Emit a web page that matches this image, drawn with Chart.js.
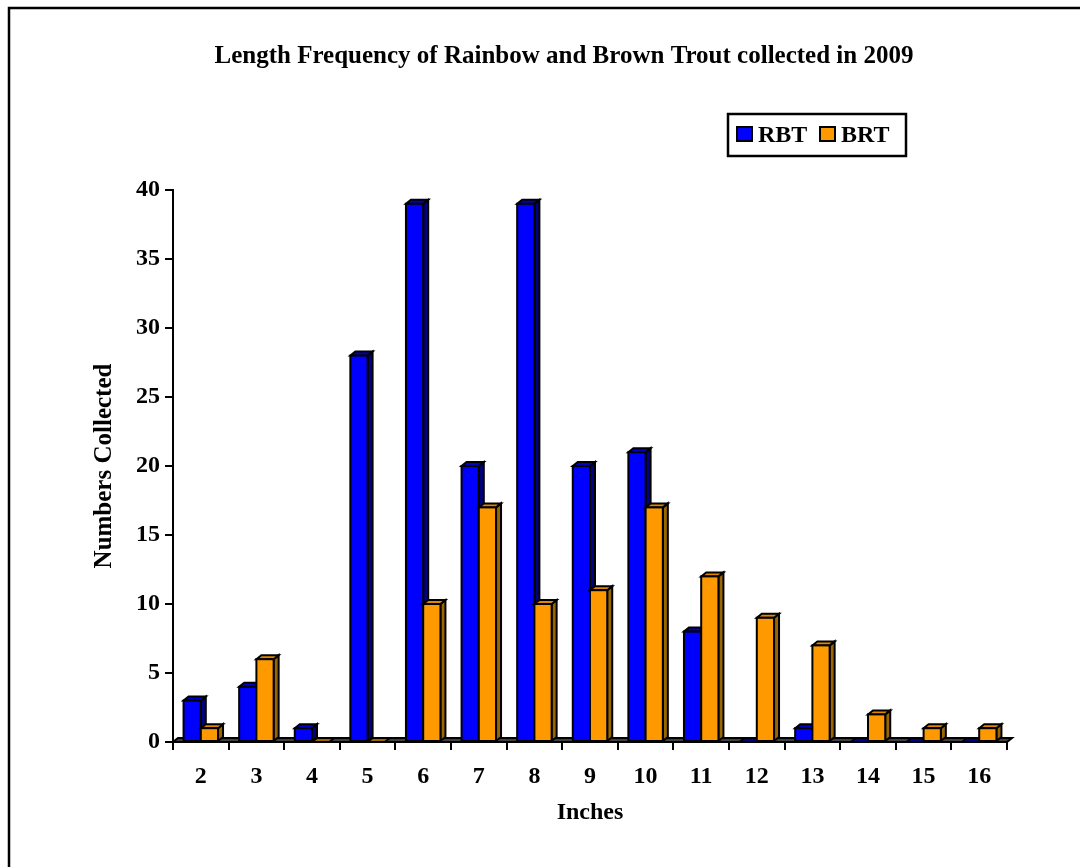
<!DOCTYPE html>
<html>
<head>
<meta charset="utf-8">
<script src="https://cdn.jsdelivr.net/npm/chart.js@4"></script>
<style>
  html, body { margin: 0; padding: 0; background: #fff; }
  #wrap { width: 1080px; height: 867px; }
</style>
</head>
<body>
<div id="wrap"><canvas id="myChart" width="1080" height="867"></canvas></div>
<script>
const TITLE = 'Length Frequency of Rainbow and Brown Trout collected in 2009';
const inches = ['2', '3', '4', '5', '6', '7', '8', '9', '10', '11', '12', '13', '14', '15', '16'];
const rbt = [3, 4, 1, 28, 39, 20, 39, 20, 21, 8, 0, 1, 0, 0, 0];
const brt = [1, 6, 0, 0, 10, 17, 10, 11, 17, 12, 9, 7, 2, 1, 1];

const FONT = '"Liberation Serif", "Times New Roman", serif';
const DX = 5, DY = 4; // depth of the fake 3d

// front, top, side colours per series
const shades = [
    { front: '#0000ff', top: '#0000c8', side: '#000080' },
    { front: '#ff9900', top: '#e08600', side: '#996600' }
];

function poly(ctx, pts, fill) {
    ctx.beginPath();
    ctx.moveTo(pts[0][0], pts[0][1]);
    for (let k = 1; k < pts.length; k++) ctx.lineTo(pts[k][0], pts[k][1]);
    ctx.closePath();
    ctx.fillStyle = fill;
    ctx.fill();
    ctx.stroke();
}

const fake3d = {
    id: 'fake3d',
    beforeDraw(chart) {
        const ctx = chart.ctx;
        ctx.save();
        ctx.strokeStyle = '#000';
        ctx.lineWidth = 2.5;
        ctx.strokeRect(9, 8, 1300, 1000);
        ctx.restore();
    },
    beforeDatasetsDraw(chart) {
        const ctx = chart.ctx;
        const xs = chart.scales.x, ys = chart.scales.y;
        const y0 = ys.getPixelForValue(0);
        ctx.save();
        ctx.strokeStyle = '#000';
        ctx.lineWidth = 2;
        ctx.lineJoin = 'miter';
        // floor
        poly(ctx, [[xs.left, y0], [xs.right, y0], [xs.right + DX, y0 - DY], [xs.left + DX, y0 - DY]], '#404040');

        for (let j = 0; j < inches.length; j++) {
            chart.data.datasets.forEach((ds, i) => {
                const el = chart.getDatasetMeta(i).data[j];
                const p = el.getProps(['x', 'y', 'base', 'width'], true);
                const l = p.x - p.width / 2, r = p.x + p.width / 2;
                const t = Math.min(p.y, p.base), b = Math.max(p.y, p.base);
                const c = shades[i];
                if (b - t < 0.5) {
                    poly(ctx, [[l, b], [r, b], [r + DX, b - DY], [l + DX, b - DY]], c.side);
                    return;
                }
                poly(ctx, [[r, t], [r + DX, t - DY], [r + DX, b - DY], [r, b]], c.side);
                poly(ctx, [[l, t], [r, t], [r + DX, t - DY], [l + DX, t - DY]], c.top);
                ctx.fillStyle = c.front;
                ctx.fillRect(l, t, r - l, b - t);
                ctx.strokeRect(l, t, r - l, b - t);
            });
        }
        ctx.restore();
        return false;
    },
    afterDraw(chart) {
        const ctx = chart.ctx;
        ctx.save();
        ctx.fillStyle = '#000';
        ctx.font = 'bold 25px ' + FONT;
        ctx.textAlign = 'center';
        ctx.textBaseline = 'middle';
        ctx.fillText(TITLE, 564, 57);

        // legend box
        ctx.font = 'bold 24px ' + FONT;
        ctx.strokeStyle = '#000';
        ctx.lineWidth = 2.5;
        ctx.strokeRect(728, 114, 178, 42);
        ctx.textAlign = 'left';
        let x = 737;
        chart.data.datasets.forEach((ds, i) => {
            ctx.fillStyle = shades[i].front;
            ctx.fillRect(x, 127, 15, 14);
            ctx.lineWidth = 2;
            ctx.strokeRect(x, 127, 15, 14);
            ctx.fillStyle = '#000';
            ctx.fillText(ds.label, x + 21, 136);
            x += 83;
        });
        ctx.restore();
    }
};

new Chart(document.getElementById('myChart'), {
    type: 'bar',
    data: {
        labels: inches,
        datasets: [
            { label: 'RBT', data: rbt, backgroundColor: shades[0].front },
            { label: 'BRT', data: brt, backgroundColor: shades[1].front }
        ]
    },
    options: {
        responsive: false,
        animation: false,
        categoryPercentage: 0.62,
        barPercentage: 1.0,
        layout: { padding: { top: 190, right: 73, left: 80, bottom: 0 } },
        plugins: {
            legend: { display: false },
            title: { display: false },
            tooltip: { enabled: false }
        },
        scales: {
            x: {
                afterFit(scale) { scale.height = 125; },
                grid: { offset: true, drawOnChartArea: false, color: '#000', lineWidth: 2, tickLength: 8 },
                border: { color: '#000', width: 2 },
                ticks: { color: '#000', padding: 12, font: { family: FONT, size: 24, weight: 'bold' } },
                title: { display: true, text: 'Inches', color: '#000', padding: { top: 0, bottom: 40 }, font: { family: FONT, size: 24, weight: 'bold' } }
            },
            y: {
                min: 0,
                max: 40,
                afterFit(scale) { scale.width = 93; },
                grid: { drawOnChartArea: false, color: '#000', lineWidth: 2, tickLength: 8 },
                border: { color: '#000', width: 2 },
                ticks: { stepSize: 5, color: '#000', padding: 5, font: { family: FONT, size: 24, weight: 'bold' } },
                title: { display: true, text: 'Numbers Collected', color: '#000', padding: { top: 10 }, font: { family: FONT, size: 25, weight: 'bold' } }
            }
        }
    },
    plugins: [fake3d]
});
</script>
</body>
</html>
